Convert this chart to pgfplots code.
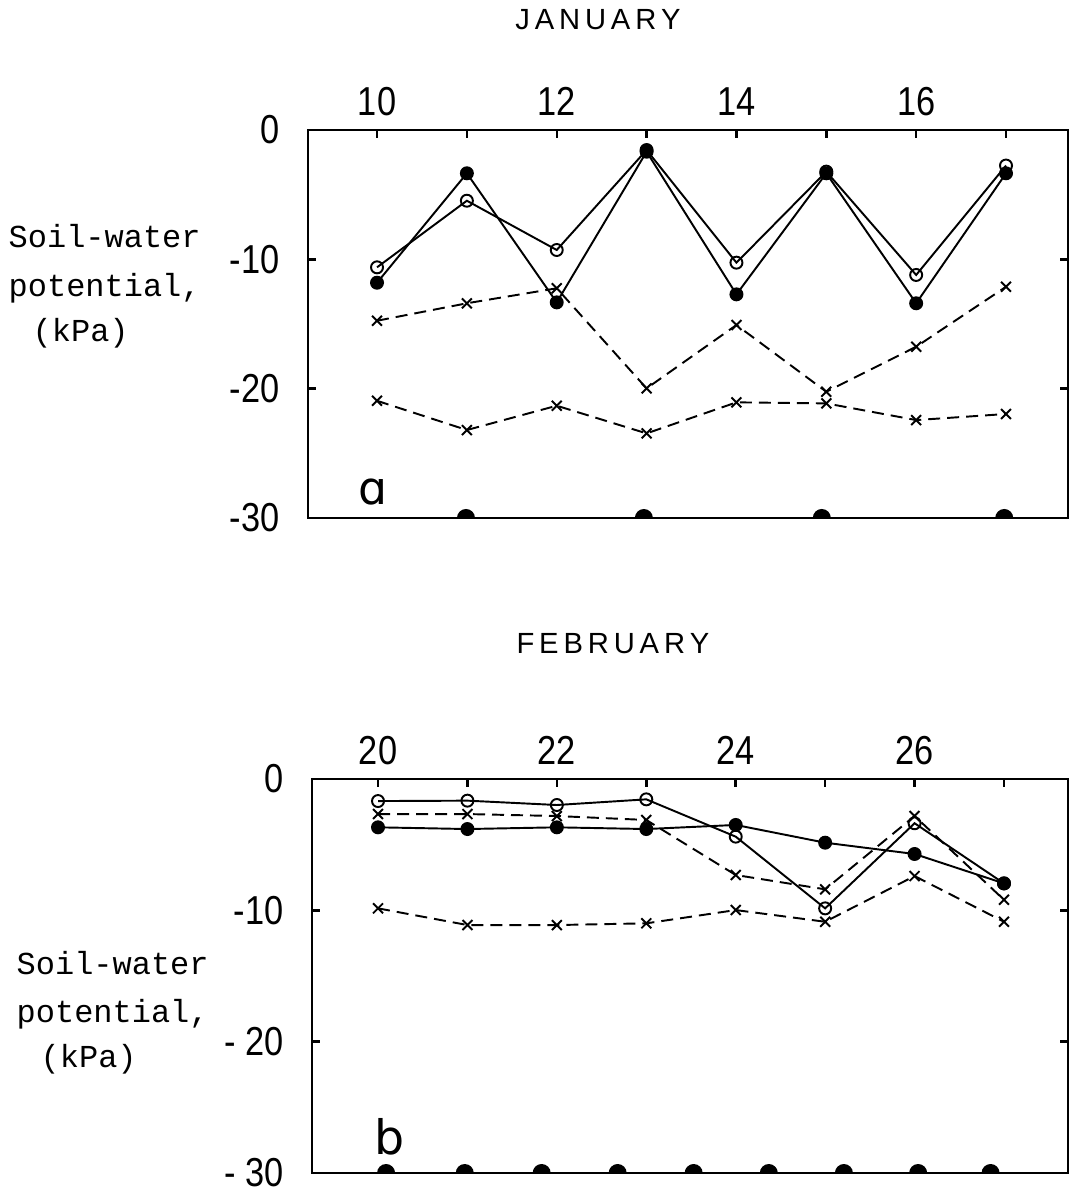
\documentclass[border=0pt]{standalone}
\usepackage{fontspec}
\usepackage{pgfplots}
\pgfplotsset{compat=1.18}
\setmainfont{Liberation Sans}
\newfontfamily\tickfont[FakeStretch=0.85]{Liberation Sans}
\newfontfamily\typefont{Liberation Mono}
\newfontfamily\letterfont{DejaVu Sans}

% half disc sitting on its flat side (rainfall / irrigation events)
\pgfdeclareplotmark{halfdisc}{%
  \pgfpathmoveto{\pgfqpoint{-\pgfplotmarksize}{0pt}}%
  \pgfpatharc{180}{0}{\pgfplotmarksize}%
  \pgfpathclose\pgfusepathqfill}

\pgfplotsset{
  panel/.style={
    scale only axis, clip=false,
    axis line style={line width=0.8pt},
    tick style={line width=0.7pt, black},
    major tick length=0.8mm,
    tick align=inside,
    xtick pos=upper, xticklabel pos=upper,
    ytick pos=both, yticklabel pos=left,
    ymin=-30, ymax=0, ytick={-30,-20,-10,0},
    ticklabel style={font=\tickfont\fontsize{11.5}{12}\selectfont},
    yticklabel style={xshift=-1.6mm},
    xticklabel style={yshift=0.2mm},
  },
  openc/.style={solid, line width=0.55pt, black, mark=o,
    mark size=0.6mm, mark options={solid, fill=white, line width=0.55pt}},
  fullc/.style={solid, line width=0.55pt, black, mark=*,
    mark size=0.6mm, mark options={solid, fill=black}},
  crossd/.style={line width=0.55pt, black, dash pattern=on 1.2mm off 0.7mm,
    mark=x, mark size=0.7mm, mark options={solid, line width=0.55pt}},
  events/.style={only marks, black, mark=halfdisc, mark size=0.9mm},
}

\begin{document}
\begin{tikzpicture}[x=1mm,y=1mm]
\useasboundingbox (0,0) rectangle (107.3,119.4);

% ---------------- (a) January ----------------
\begin{axis}[panel,
  at={(30.8mm,67.6mm)}, anchor=south west,
  width=76.0mm, height=38.8mm,
  xmin=9.232, xmax=17.69,
  xtick={10,...,17}, xticklabels={10,,12,,14,,16,},
  yticklabels={{-30},{-20},{-10},{0}},
]
\addplot[crossd] coordinates {(10,-20.94) (11,-23.20) (12,-21.32) (13,-23.46)
  (14,-21.06) (15,-21.14) (16,-22.43) (17,-21.96)};
\addplot[crossd] coordinates {(10,-14.75) (11,-13.40) (12,-12.24) (13,-19.98)
  (14,-15.08) (15,-20.24) (16,-16.76) (17,-12.12)};
\addplot[fullc] coordinates {(10,-11.81) (11,-3.35) (12,-13.33) (13,-1.68)
  (14,-12.71) (15,-3.35) (16,-13.40) (17,-3.35)};
\addplot[openc] coordinates {(10,-10.62) (11,-5.47) (12,-9.28) (13,-1.55)
  (14,-10.26) (15,-3.22) (16,-11.21) (17,-2.75)};
\addplot[events] coordinates {(10.99,-30) (12.97,-30) (14.95,-30) (16.98,-30)};
\end{axis}

% ---------------- (b) February ----------------
\begin{axis}[panel,
  at={(31.2mm,2.1mm)}, anchor=south west,
  width=75.6mm, height=39.4mm,
  xmin=19.262, xmax=27.716,
  xtick={20,...,27}, xticklabels={20,,22,,24,,26,},
  yticklabels={{- 30},{- 20},{-10},{0}},
]
\addplot[crossd] coordinates {(20,-9.85) (21,-11.12) (22,-11.12) (23,-10.99)
  (24,-9.98) (25,-10.87) (26,-7.39) (27,-10.87)};
\addplot[crossd] coordinates {(20,-2.67) (21,-2.67) (22,-2.82) (23,-3.12)
  (24,-7.31) (25,-8.40) (26,-2.82) (27,-9.20)};
\addplot[fullc] coordinates {(20,-3.68) (21,-3.81) (22,-3.68) (23,-3.81)
  (24,-3.50) (25,-4.85) (26,-5.71) (27,-7.95)};
\addplot[openc] coordinates {(20,-1.68) (21,-1.65) (22,-1.98) (23,-1.55)
  (24,-4.39) (25,-9.85) (26,-3.37) (27,-7.95)};
\addplot[events] coordinates {(20.09,-30) (20.97,-30) (21.83,-30) (22.68,-30)
  (23.53,-30) (24.37,-30) (25.21,-30) (26.04,-30) (26.85,-30)};
\end{axis}

% titles
\node[font=\fontsize{8.3}{10}\selectfont] at (59.8,117.4) {J\,A\,N\,U\,A\,R\,Y};
\node[font=\fontsize{8.3}{10}\selectfont] at (61.3,55.0) {F\,E\,B\,R\,U\,A\,R\,Y};

% panel letters
\node[anchor=base west, inner sep=0pt, font=\letterfont\fontsize{13}{14}\selectfont]
  at (35.8,68.9) {ɑ};
\node[anchor=base west, inner sep=0pt, font=\letterfont\fontsize{13.5}{14}\selectfont]
  at (37.4,3.9) {b};

% axis titles
\begin{scope}[every node/.style={anchor=base west, inner sep=0pt,
    font=\typefont\fontsize{9.1}{11}\selectfont}]
  \node at (0.8,94.6) {Soil-water};
  \node at (0.8,89.7) {potential,};
  \node at (3.2,85.2) {(kPa)};
  \node at (1.6,21.9) {Soil-water};
  \node at (1.6,17.1) {potential,};
  \node at (4.0,12.6) {(kPa)};
\end{scope}
\end{tikzpicture}
\end{document}
